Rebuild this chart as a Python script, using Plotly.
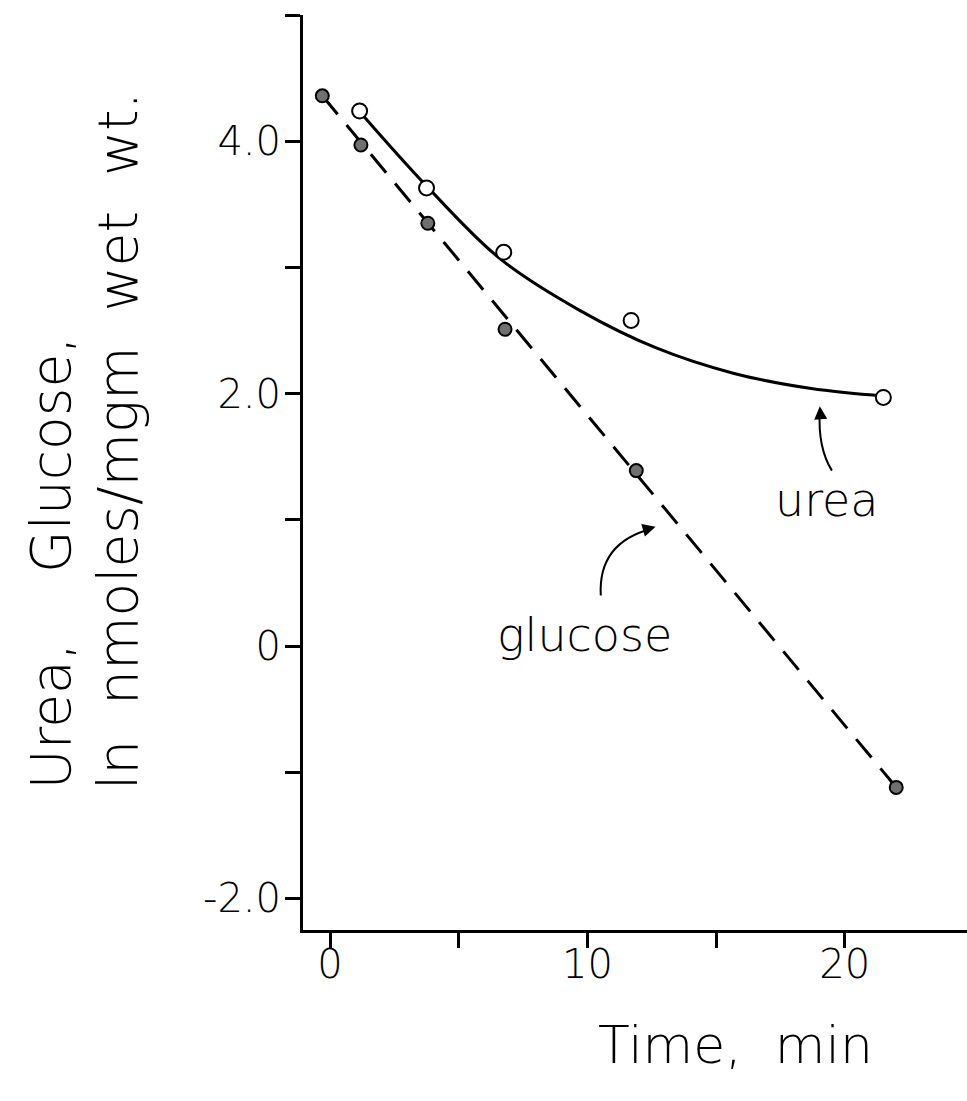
import plotly.graph_objects as go

# ---- data ----
glucose_t = [-0.3, 1.2, 3.8, 6.8, 11.9, 22.0]
glucose_ln = [4.36, 3.97, 3.35, 2.51, 1.39, -1.12]

urea_t = [1.15, 3.75, 6.75, 11.7, 21.5]
urea_ln = [4.24, 3.63, 3.12, 2.58, 1.97]

# smooth hand-drawn urea curve, read along its path
urea_curve_t = [1.13, 3.73, 6.6, 9.7, 12.7, 15.7, 18.7, 21.55]
urea_curve_ln = [4.24, 3.65, 3.07, 2.66, 2.36, 2.16, 2.04, 1.98]

# straight dashed glucose line drawn from the first to the last point
glucose_line_t = [glucose_t[0], glucose_t[-1]]
glucose_line_ln = [glucose_ln[0], glucose_ln[-1]]

x_ticks = [0, 5, 10, 15, 20]
x_ticktext = ["0", "", "10", "", "20"]
y_ticks = [-2, -1, 0, 1, 2, 3, 4, 5]
y_ticktext = ["-2.0", "", "0", "", "2.0", "", "4.0", ""]

FONT = "DejaVu Sans"
TXT = dict(family=FONT, size=55, color="black", weight=200)

fig = go.Figure()

fig.add_trace(go.Scatter(
    x=glucose_line_t, y=glucose_line_ln, mode="lines",
    line=dict(color="black", width=3, dash="24px,14px"),
    hoverinfo="skip", showlegend=False))

fig.add_trace(go.Scatter(
    x=urea_curve_t, y=urea_curve_ln, mode="lines",
    line=dict(color="black", width=3, shape="spline", smoothing=1.0),
    hoverinfo="skip", showlegend=False))

fig.add_trace(go.Scatter(
    x=glucose_t, y=glucose_ln, mode="markers", name="glucose",
    marker=dict(symbol="circle", size=13, color="#707070",
                line=dict(color="black", width=2)),
    showlegend=False))

fig.add_trace(go.Scatter(
    x=urea_t, y=urea_ln, mode="markers", name="urea",
    marker=dict(symbol="circle", size=15, color="white",
                line=dict(color="black", width=2)),
    showlegend=False))

# curved arrow bodies
fig.add_shape(type="path", xref="x", yref="y",
              path="M 19.5,1.39 Q 18.95,1.57 19.03,1.86",
              line=dict(color="black", width=2))
fig.add_shape(type="path", xref="x", yref="y",
              path="M 10.52,0.40 Q 10.41,0.82 12.5,0.93",
              line=dict(color="black", width=2))

annotations = [
    dict(x=19.3, y=1.16, xref="x", yref="y", text="urea", showarrow=False,
         font=dict(family=FONT, size=46, color="black", weight=200)),
    dict(x=9.9, y=0.09, xref="x", yref="y", text="glucose", showarrow=False,
         font=dict(family=FONT, size=46, color="black", weight=200)),
    # arrowheads
    dict(x=19.03, y=1.90, xref="x", yref="y", text="", showarrow=True,
         ax=1, ay=14, arrowhead=2, arrowsize=1.3, arrowwidth=2, arrowcolor="black"),
    dict(x=12.65, y=0.945, xref="x", yref="y", text="", showarrow=True,
         ax=-14, ay=4, arrowhead=2, arrowsize=1.3, arrowwidth=2, arrowcolor="black"),
    # axis titles
    dict(x=(735 - 303) / 664, y=-(1045 - 930) / 915, xref="paper", yref="paper",
         text="Time,  min", showarrow=False,
         font=dict(family=FONT, size=52, color="black", weight=200),
         xanchor="center", yanchor="middle"),
    dict(x=(50 - 303) / 664, y=(930 - 792) / 915, xref="paper", yref="paper",
         text="Urea,    Glucose,", showarrow=False, font=TXT, textangle=-90,
         xanchor="center", yanchor="bottom"),
    dict(x=(118 - 303) / 664, y=(930 - 792) / 915, xref="paper", yref="paper",
         text="ln  nmoles/mgm  wet  wt.", showarrow=False, font=TXT, textangle=-90,
         xanchor="center", yanchor="bottom"),
]

axis_common = dict(
    showline=True, linecolor="black", linewidth=3,
    ticks="outside", ticklen=15, tickwidth=2.5, tickcolor="black",
    showgrid=False, zeroline=False, mirror=False,
    tickfont=dict(family=FONT, size=40, color="black", weight=200),
)

fig.update_layout(
    width=967, height=1101, autosize=False,
    margin=dict(l=303, r=0, t=15, b=171),
    plot_bgcolor="white", paper_bgcolor="white",
    xaxis=dict(range=[-1.05, 24.75], tickmode="array", tickvals=x_ticks,
               ticktext=x_ticktext, ticklabelstandoff=-18, **axis_common),
    yaxis=dict(range=[-2.25, 5.0], tickmode="array", tickvals=y_ticks,
               ticktext=y_ticktext, ticklabelstandoff=-4, **axis_common),
    annotations=annotations,
)

fig.write_html("out.html")
